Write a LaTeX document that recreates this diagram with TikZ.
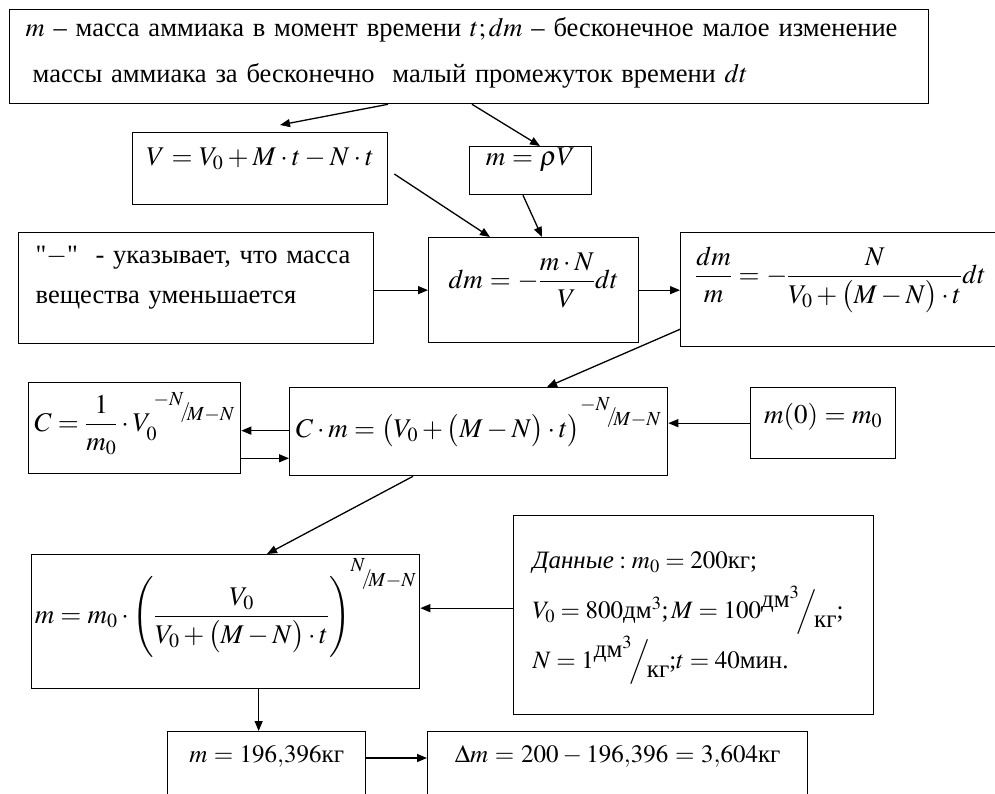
\documentclass[tikz,border=0pt]{standalone}
\usepackage{amsmath}
\usepackage{mathptmx}
\usepackage[no-math]{fontspec}
\setmainfont{Liberation Serif}
\newfontfamily\qfont{Liberation Serif}
\usetikzlibrary{arrows.meta}
\tikzset{
  box/.style  = {draw=black, line width=1.3pt, inner sep=0pt, anchor=north west,
                 align=center, font=\fontsize{27}{32}\selectfont},
  txt/.style  = {box, align=left, font=\fontsize{26.5}{46}\selectfont},
  arr/.style  = {-{Triangle[length=10pt,width=8pt]}, draw=black, line width=1.3pt},
}
\newcommand{\slfrac}[2]{\raisebox{0.45em}{$\scriptstyle #1$}\mkern-3mu/\mkern-3mu\raisebox{-0.1em}{$\scriptstyle #2$}}
\newcommand{\unitfr}[2]{\raisebox{0.45em}{#1}$\mkern-2mu\Big/\mkern-2mu$\raisebox{-0.35em}{#2}}

\begin{document}
\begin{tikzpicture}[x=1pt,y=-1pt]
  \useasboundingbox (0,0) rectangle (995,794);
  \fill[white] (0,0) rectangle (995,794);

  % definitions
  \node[txt, inner xsep=16pt, text width=887pt, text height=27pt, text depth=67pt] (def) at (9,9)
    {$m$ -- масса аммиака в момент времени $t; dm$ -- бесконечное малое изменение\\
     \hspace*{7pt}массы аммиака за бесконечно\ \ малый промежуток времени $dt$};
  \node[box, text width=255pt, text height=33pt, text depth=39pt] (vol) at (132,132)
    {$V = V_0 + M\cdot t - N\cdot t$};
  \node[box, text width=122pt, text height=19pt, text depth=29pt] (rho) at (469,146)
    {$m = \rho V$};

  % differential equation
  \node[txt, font=\fontsize{26.5}{40}\selectfont, inner xsep=17pt, text width=321pt,
        text height=31pt, text depth=80pt] (sign) at (18,232)
    {{\qfont"}$-${\qfont"}\ \ - указывает, что масса\\ вещества уменьшается};
  \node[box, text width=210pt, text height=51pt, text depth=54pt] (dm) at (428,237)
    {$dm = -\dfrac{m\cdot N}{V}dt$};
  \node[box, text width=320pt, text height=51pt, text depth=63pt] (ratio) at (680,232)
    {$\dfrac{dm}{m} = -\dfrac{N}{V_0 + \bigl(M-N\bigr)\cdot t}dt$};

  % integration constant
  \node[box, text width=212pt, text height=49pt, text depth=42pt] (const) at (28,382)
    {$C = \dfrac{1}{m_0}\cdot V_0^{\,\slfrac{-N}{M-N}}$};
  \node[box, text width=378pt, text height=50pt, text depth=38pt] (Cm) at (289,387)
    {$C\cdot m = \bigl(V_0 + \bigl(M-N\bigr)\cdot t\bigr)^{\slfrac{-N}{M-N}}$};
  \node[box, text width=145pt, text height=36pt, text depth=35pt] (init) at (750,387)
    {$m(0) = m_0$};

  % solution and data
  \node[box, text width=388pt, text height=69pt, text depth=65pt] (sol) at (31,554)
    {$m = m_0\cdot\left(\dfrac{V_0}{V_0 + \bigl(M-N\bigr)\cdot t}\right)^{\slfrac{N}{M-N}}$};
  \node[txt, font=\fontsize{25}{50}\selectfont, inner xsep=19pt, text width=322pt,
        text height=53pt, text depth=146pt] (data) at (513,515)
    {$\text{\textit{Данные}}: m_0 = 200$кг;\\
     $V_0 = 800$дм$^3$;$\,M = 100$\unitfr{дм$^3$}{кг};\\
     $N = 1$\unitfr{дм$^3$}{кг};$t = 40$мин.};
  \node[txt, font=\fontsize{25}{30}\selectfont, align=center, text width=198pt,
        text height=31pt, text depth=60pt] (res) at (167,731)
    {$m = 196{,}396$кг};
  \node[txt, font=\fontsize{25}{30}\selectfont, align=center, text width=380pt,
        text height=31pt, text depth=60pt] (diff) at (427,731)
    {$\Delta m = 200 - 196{,}396 = 3{,}604$кг};

  % connectors
  \draw[arr] ([xshift=379pt]def.south west) -- ([xshift=148pt,yshift=7pt]vol.north west);
  \draw[arr] ([xshift=463pt]def.south west) -- ([xshift=71pt]rho.north west);
  \draw[arr] ([xshift=6pt,yshift=-42pt]vol.north east) -- ([xshift=62pt]dm.north west);
  \draw[arr] ([xshift=54pt]rho.south west) -- ([xshift=114pt]dm.north west);
  \draw[arr] ([yshift=-2pt]sign.east) -- ([yshift=-2pt]sign.east -| dm.west);
  \draw[arr] (dm.east) -- (dm.east -| ratio.west);
  \draw[arr] ([yshift=18pt]ratio.south west) -- ([xshift=258pt]Cm.north west);
  \draw[arr] ([yshift=1pt]Cm.west) -- ([yshift=1pt]Cm.west -| const.east);
  \draw[arr] ([yshift=18pt]Cm.south west -| const.east) -- ([yshift=18pt]Cm.south west);
  \draw[arr] (init.west) -- (init.west -| Cm.east);
  \draw[arr] ([xshift=124pt]Cm.south west) -- ([xshift=236pt]sol.north west);
  \draw[arr] ([yshift=7pt]data.west) -- ([yshift=7pt]data.west -| sol.east);
  \draw[arr] ([xshift=-8pt]res.north |- sol.south) -- ([xshift=-8pt]res.north);
  \draw[arr] ([yshift=-27pt]res.north east) -- ([yshift=-27pt]res.north east -| diff.west);
\end{tikzpicture}
\end{document}
